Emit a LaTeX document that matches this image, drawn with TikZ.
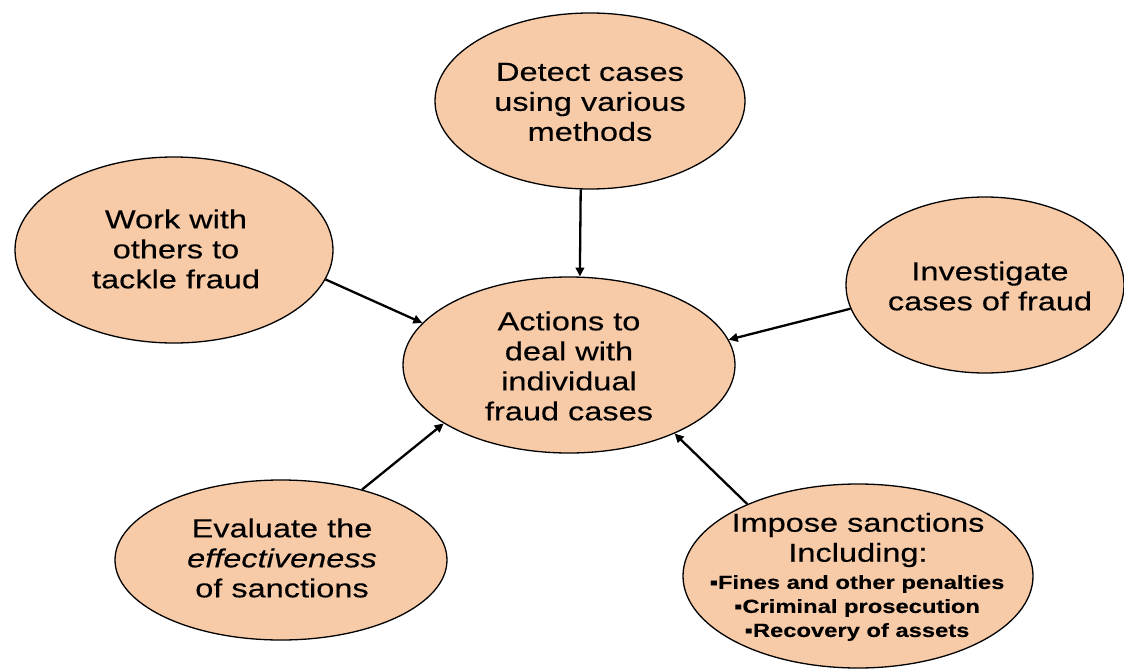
\documentclass[tikz,border=0pt]{standalone}
\usepackage{fontspec}
\setmainfont{Liberation Sans}[FakeStretch=1.25,FakeBold=0.3]
\usetikzlibrary{shapes.geometric,arrows.meta}
\definecolor{peach}{RGB}{247,202,168}
\begin{document}
\begin{tikzpicture}[x=1pt,y=-1pt,
  bubble/.style={ellipse, draw=black, line width=1.3pt, fill=peach, inner sep=0pt},
  bubbletext/.style={align=center, inner sep=0pt, font=\fontsize{26}{30}\selectfont},
  listtext/.style={align=center, inner sep=0pt, font=\fontsize{19}{24}\selectfont\bfseries},
  link/.style={line width=2.3pt, -{Triangle[length=9pt,width=8.5pt]}}]
\useasboundingbox (0,0) rectangle (1124,669);

% bubbles
\node[bubble, minimum width=310pt, minimum height=176pt] (detect) at (590,101) {};
\node[bubble, minimum width=318pt, minimum height=186pt] (work) at (174,250) {};
\node[bubble, minimum width=278pt, minimum height=176pt] (invest) at (985,285) {};
\node[bubble, minimum width=332pt, minimum height=176pt] (actions) at (569,365) {};
\node[bubble, minimum width=332pt, minimum height=160pt] (evaluate) at (281,560) {};
\node[bubble, minimum width=350pt, minimum height=184pt] (impose) at (858,576) {};

% texts
\node[bubbletext] (detecttext) at (590,102) {Detect cases\\using various\\methods};
\node[bubbletext] (worktext) at (176,249) {Work with\\others to\\tackle fraud};
\node[bubbletext] (investtext) at (990,286) {Investigate\\cases of fraud};
\node[bubbletext] (actionstext) at (569,366) {Actions to\\deal with\\individual\\fraud cases};
\node[bubbletext] (evaluatetext) at (282,558) {Evaluate the\\\textit{effectiveness}\\of sanctions};
\node[bubbletext] (imposehead) at (858,540) {Impose sanctions\\Including:};
\node[listtext] (imposelist) at (857,608) {▪Fines and other penalties\\▪Criminal prosecution\\▪Recovery of assets};

% connectors
\draw[link] (detect.-96) -- (actions.83);
\draw[link] (work.-11) -- (actions.164);
\draw[link] (invest.190) -- (actions.9);
\draw[link] (evaluate.41) -- (actions.205);
\draw[link] (impose.147) -- (actions.-33);
\end{tikzpicture}
\end{document}
